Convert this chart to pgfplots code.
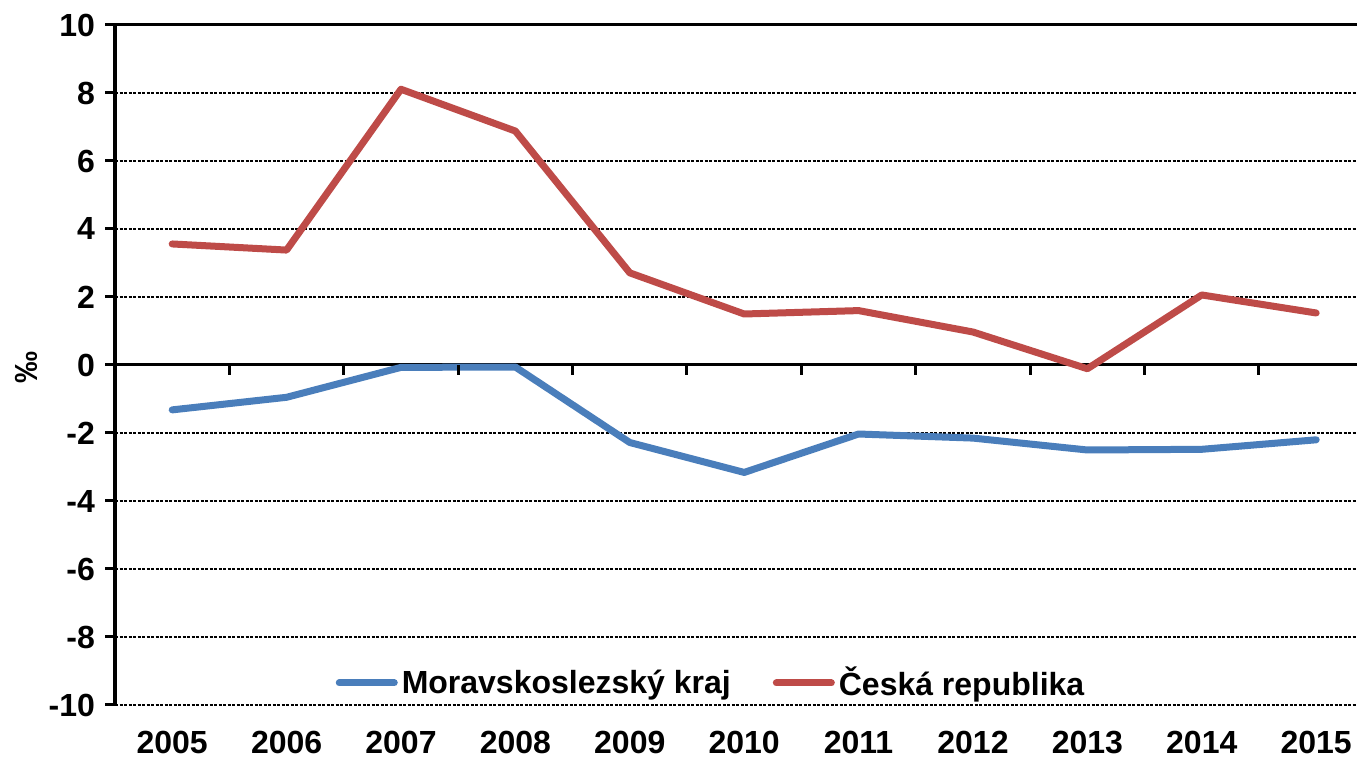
\documentclass[border=0pt]{standalone}
\usepackage{fontspec}
\setmainfont{Liberation Sans}
\usepackage{pgfplots}
\pgfplotsset{compat=1.18}
\definecolor{msblue}{RGB}{74,126,187}
\definecolor{crred}{RGB}{190,75,72}
\newcommand{\fsz}{\bfseries\fontsize{16}{19}\selectfont}
\begin{document}
\begin{tikzpicture}
\begin{axis}[
  scale only axis,
  width=621pt, height=340pt,
  xmin=-0.5, xmax=10.357,
  ymin=-10, ymax=10,
  axis lines*=left,
  x axis line style={draw=none},
  y axis line style={line width=1.6pt, black},
  xtick={0,1,2,3,4,5,6,7,8,9,10},
  xticklabels={2005,2006,2007,2008,2009,2010,2011,2012,2013,2014,2015},
  xtick style={draw=none},
  ytick={-10,-8,-6,-4,-2,0,2,4,6,8,10},
  ytick style={line width=1.5pt, black},
  tick align=outside,
  major tick length=5pt,
  ymajorgrids,
  major grid style={black, line width=0.7pt, dash pattern=on 1.5pt off 0.75pt},
  extra y ticks={0,10},
  extra y tick labels={},
  extra y tick style={grid=major, major grid style={solid, black, line width=1.5pt}},
  /pgf/number format/assume math mode=true,
  tick label style={font=\fsz},
  xticklabel style={anchor=base, yshift=-19pt},
  yticklabel style={anchor=east, xshift=-1.5pt},
  ylabel={‰},
  ylabel style={font=\fsz, at={(axis description cs:-0.0717,0.497)}, anchor=center, rotate=0},
  legend style={at={(0.4807,0.0324)}, anchor=center, draw=none, fill=none,
    font=\fsz, legend columns=2,
    /tikz/every even column/.append style={column sep=19pt}},
  legend image code/.code={\draw[#1, line width=3.5pt, line cap=round] (1.75pt,0pt) -- (29.25pt,0pt);},
  legend cell align=left,
]
\addplot[msblue, line width=3.5pt, line cap=round, line join=round] coordinates {
 (0,-1.32) (1,-0.95) (2,-0.07) (3,-0.06) (4,-2.28) (5,-3.16) (6,-2.03) (7,-2.15) (8,-2.50) (9,-2.48) (10,-2.20)};
\addlegendentry{Moravskoslezský kraj}
\addplot[crred, line width=3.5pt, line cap=round, line join=round] coordinates {
 (0,3.56) (1,3.38) (2,8.11) (3,6.88) (4,2.71) (5,1.50) (6,1.60) (7,0.97) (8,-0.11) (9,2.06) (10,1.53)};
\addlegendentry{Česká republika}
\pgfplotsinvokeforeach{0.5,1.5,2.5,3.5,4.5,5.5,6.5,7.5,8.5,9.5}{
  \draw[black, line width=1.5pt] (axis cs:#1,0) -- ([yshift=-5pt]axis cs:#1,0);
}
\end{axis}
\pgfresetboundingbox
\path[use as bounding box] ([xshift=-57.5pt,yshift=-26.5pt]current axis.south west) rectangle ([yshift=12.5pt]current axis.north east);
\end{tikzpicture}
\end{document}
